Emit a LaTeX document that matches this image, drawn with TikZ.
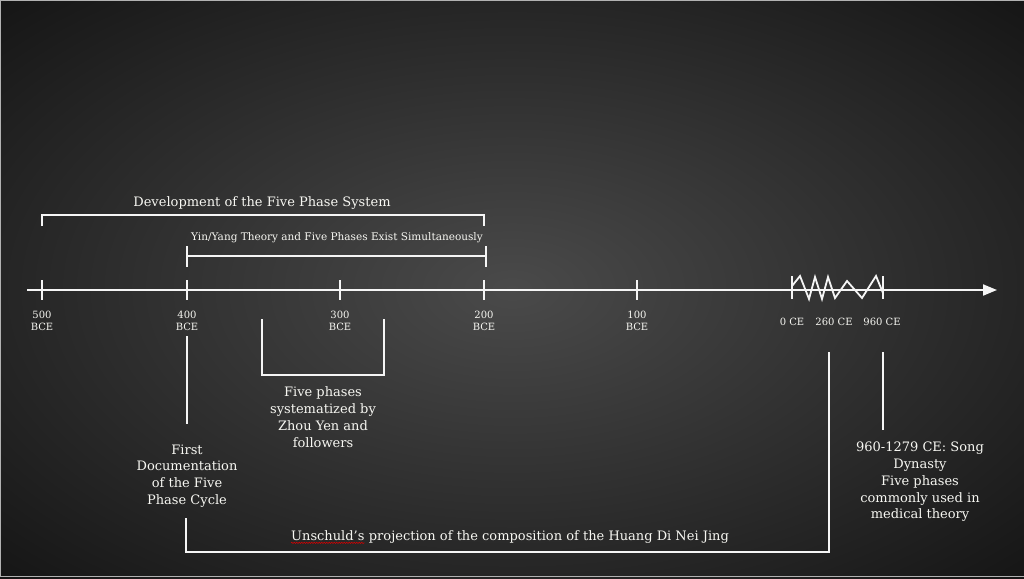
\documentclass[tikz,border=0pt]{standalone}
\usepackage{fontspec}
\setmainfont{DejaVu Serif}
\usetikzlibrary{arrows.meta,positioning,decorations.pathmorphing}
\newlength{\du}
\setlength{\du}{1pt}
\definecolor{linecolor}{rgb}{0.96, 0.96, 0.96}
\definecolor{textcolor}{rgb}{0.97, 0.97, 0.95}
\definecolor{glowcolor}{rgb}{0.29, 0.29, 0.29}
\definecolor{framecolor}{rgb}{0.70, 0.70, 0.70}
\pgfdeclareradialshading{bgglow}{\pgfpoint{0bp}{0bp}}{color(0bp)=(glowcolor); color(50bp)=(black)}
\tikzset{
  tline/.style={draw=linecolor, line width=2\du},
  datelbl/.style={text=textcolor, font=\fontsize{10}{12.5}\selectfont, align=center, inner sep=0pt},
  notelbl/.style={text=textcolor, font=\fontsize{13}{16.8}\selectfont, align=center, inner sep=0pt},
}

\begin{document}
\begin{tikzpicture}
\pgftransformxscale{1.000000}
\pgftransformyscale{-1.000000}
\useasboundingbox (0\du,0\du) rectangle (1024\du,578\du);
% background and frame
\shade[shading=bgglow] (0\du,0\du) rectangle (1024\du,578\du);
\draw[framecolor, line width=1.2\du] (0.6\du,577\du) -- (0.6\du,0.6\du) -- (1024\du,0.6\du);
\draw[framecolor, line width=1.5\du] (0\du,576.5\du) -- (1024\du,576.5\du);
% time axis
\coordinate (axisL) at (27\du,290\du);
\coordinate (axisR) at (997\du,290\du);
\draw[tline, -{Triangle[length=14pt,width=11pt]}] (axisL) -- (axisR);
\foreach \yr/\xx in {500/42,400/187,300/340,200/484,100/637}{
  \draw[tline] (\xx\du,280\du) -- (\xx\du,300\du);
  \node[datelbl] (bce\yr) at (\xx\du,321\du) {\yr\\BCE};
}
% broken part of the axis
\draw[tline, line width=1.8\du, line join=miter] (792\du,276\du) -- (792\du,299\du);
\draw[tline, line width=1.8\du, line join=miter] (883\du,276\du) -- (883\du,299\du);
\draw[tline, line width=1.8\du, line join=miter] (792\du,286\du) -- (800\du,276\du) -- (809\du,299\du)
  -- (815\du,277\du) -- (822\du,299\du) -- (828\du,277\du) -- (835\du,298\du)
  -- (847\du,281\du) -- (862\du,298\du) -- (876\du,276\du) -- (883\du,293\du);
\node[datelbl] (ce0) at (792\du,322\du) {0 CE};
\node[datelbl] (ce260) at (834\du,322\du) {260 CE};
\node[datelbl] (ce960) at (882\du,322\du) {960 CE};
% development of the five phase system
\coordinate (devL) at (42\du,226\du);
\coordinate (devR) at (484\du,226\du);
\draw[tline] (devL) -- ++(0\du,-11\du) -| (devR);
\node[notelbl] (dev) at (262\du,203\du) {Development of the Five Phase System};
% yin/yang and five phases
\coordinate (yinL) at (187\du,256\du);
\coordinate (yinR) at (486\du,256\du);
\draw[tline] (yinL) -- (yinR);
\draw[tline] ([yshift=-10\du]yinL) -- ([yshift=11\du]yinL);
\draw[tline] ([yshift=-10\du]yinR) -- ([yshift=11\du]yinR);
\node[datelbl, font=\fontsize{10.5}{12}\selectfont] (yin) at (337\du,238\du) {Yin/Yang Theory and Five Phases Exist Simultaneously};
% zhou yen
\coordinate (zhouL) at (262\du,319\du);
\coordinate (zhouR) at (384\du,319\du);
\draw[tline] (zhouL) -- ++(0\du,56\du) -| (zhouR);
\node[notelbl] (zhou) at (323\du,417\du) {Five phases\\systematized by\\Zhou Yen and\\followers};
% first documentation
\coordinate (docT) at (187\du,336\du);
\coordinate (docB) at (187\du,424\du);
\draw[tline] (docT) -- (docB);
\node[notelbl] (firstdoc) at (187\du,476\du) {First\\Documentation\\of the Five\\Phase Cycle};
% huang di nei jing
\coordinate (hdnjL) at (186\du,518\du);
\coordinate (hdnjR) at (829\du,352\du);
\draw[tline] (hdnjL) |- (829\du,552\du) -- (hdnjR);
\node[notelbl, anchor=base west] (unsch) at (291\du,540\du) {Unschuld's};
\node[notelbl, right=4\du of unsch.base east, anchor=base west] (hdnj) {projection of the composition of the Huang Di Nei Jing};
\draw[red!85!black, line width=0.6\du, decorate, decoration={snake, amplitude=0.6\du, segment length=2.5\du}] ([yshift=2.5\du]unsch.south west) -- ([yshift=2.5\du]unsch.south east);
% song dynasty
\coordinate (songT) at (883\du,352\du);
\coordinate (songB) at (883\du,430\du);
\draw[tline] (songT) -- (songB);
\node[notelbl] (song) at (920\du,482\du) {960-1279 CE: Song\\Dynasty\\Five phases\\commonly used in\\medical theory};
\end{tikzpicture}
\end{document}
